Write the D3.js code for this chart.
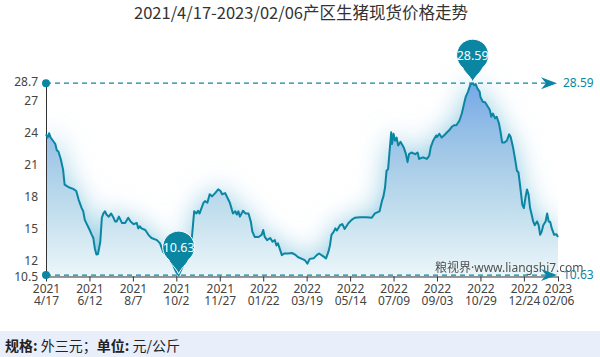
<!DOCTYPE html>
<html><head><meta charset="utf-8">
<script src="https://cdn.jsdelivr.net/npm/d3@7"></script>
<style>
html,body{margin:0;padding:0;background:#fff;}
svg{display:block;font-family:"Noto Sans","Noto Sans CJK SC",sans-serif;}
</style></head>
<body><svg id="c" width="600" height="357"></svg>
<script>
const titleText = "2021/4/17-2023/02/06产区生猪现货价格走势";
const footerBold1 = "规格:", footerText1 = " 外三元；", footerBold2 = "单位:", footerText2 = " 元/公斤";
const watermarkCn = "粮视界", watermarkUrl = "·www.liangshi7.com";
const dates = ["2021-04-17","2021-04-19","2021-04-21","2021-04-23","2021-04-26","2021-04-29","2021-05-01","2021-05-03","2021-05-06","2021-05-09","2021-05-11","2021-05-14","2021-05-18","2021-05-22","2021-05-26","2021-05-29","2021-06-02","2021-06-04","2021-06-06","2021-06-08","2021-06-12","2021-06-15","2021-06-17","2021-06-19","2021-06-21","2021-06-23","2021-06-26","2021-06-28","2021-06-30","2021-07-02","2021-07-04","2021-07-07","2021-07-10","2021-07-13","2021-07-15","2021-07-17","2021-07-20","2021-07-24","2021-07-28","2021-08-01","2021-08-04","2021-08-08","2021-08-12","2021-08-14","2021-08-16","2021-08-18","2021-08-23","2021-08-27","2021-08-31","2021-09-07","2021-09-11","2021-09-15","2021-09-20","2021-09-24","2021-09-28","2021-10-02","2021-10-05","2021-10-11","2021-10-17","2021-10-22","2021-10-25","2021-10-28","2021-10-30","2021-11-01","2021-11-06","2021-11-08","2021-11-11","2021-11-14","2021-11-17","2021-11-21","2021-11-25","2021-11-28","2021-11-30","2021-12-04","2021-12-07","2021-12-10","2021-12-12","2021-12-14","2021-12-17","2021-12-19","2021-12-21","2021-12-23","2021-12-27","2021-12-30","2022-01-03","2022-01-06","2022-01-08","2022-01-11","2022-01-16","2022-01-20","2022-01-22","2022-01-24","2022-01-27","2022-01-31","2022-02-03","2022-02-06","2022-02-08","2022-02-10","2022-02-13","2022-02-15","2022-02-18","2022-02-23","2022-02-28","2022-03-04","2022-03-08","2022-03-13","2022-03-17","2022-03-20","2022-03-23","2022-03-28","2022-04-01","2022-04-04","2022-04-09","2022-04-13","2022-04-16","2022-04-18","2022-04-20","2022-04-23","2022-04-25","2022-04-27","2022-05-01","2022-05-04","2022-05-07","2022-05-12","2022-05-16","2022-05-20","2022-05-27","2022-06-04","2022-06-11","2022-06-15","2022-06-21","2022-06-24","2022-06-26","2022-06-28","2022-06-30","2022-07-02","2022-07-04","2022-07-06","2022-07-07","2022-07-09","2022-07-11","2022-07-13","2022-07-15","2022-07-18","2022-07-22","2022-07-25","2022-07-27","2022-07-29","2022-08-01","2022-08-06","2022-08-09","2022-08-11","2022-08-16","2022-08-21","2022-08-24","2022-08-26","2022-08-29","2022-09-02","2022-09-03","2022-09-06","2022-09-09","2022-09-12","2022-09-16","2022-09-19","2022-09-22","2022-09-25","2022-09-28","2022-10-02","2022-10-05","2022-10-08","2022-10-10","2022-10-13","2022-10-16","2022-10-18","2022-10-19","2022-10-21","2022-10-23","2022-10-25","2022-10-28","2022-10-29","2022-11-01","2022-11-04","2022-11-07","2022-11-10","2022-11-12","2022-11-14","2022-11-17","2022-11-19","2022-11-22","2022-11-24","2022-11-26","2022-11-29","2022-12-02","2022-12-05","2022-12-07","2022-12-10","2022-12-13","2022-12-15","2022-12-17","2022-12-19","2022-12-22","2022-12-24","2022-12-26","2022-12-28","2022-12-30","2023-01-01","2023-01-03","2023-01-05","2023-01-07","2023-01-10","2023-01-12","2023-01-14","2023-01-16","2023-01-18","2023-01-21","2023-01-23","2023-01-25","2023-01-27","2023-01-29","2023-02-01","2023-02-04","2023-02-06"];
const prices = [23.8,23.5,23.9,23.5,23.2,22.9,22.3,22.2,21.5,20.5,
19.1,18.95,18.8,18.7,18.5,17.7,16.9,16.6,15.8,15.5,
14.9,14.4,14.1,13.1,12.55,12.6,13.75,16.0,16.4,16.6,
16.3,16.1,16.4,16.0,15.65,15.65,16.1,15.5,15.5,16.0,
15.65,15.4,15.5,15.0,15.2,15.0,14.85,14.4,14.1,13.9,
13.6,12.8,12.5,12.2,11.55,10.9,10.63,11.55,12.8,14.1,
16.6,16.4,16.65,16.4,17.4,17.55,17.4,18.2,18.0,18.3,
18.65,18.5,18.2,18.3,17.85,17.4,16.9,16.4,16.6,16.3,
16.6,16.1,16.65,16.4,16.4,15.65,14.7,14.2,14.2,14.4,
14.85,14.2,13.9,14.1,13.75,13.9,13.4,13.6,12.95,12.5,
12.65,12.65,12.7,12.55,12.3,12.15,12.0,11.7,12.15,12.2,
12.5,12.65,12.4,12.2,12.8,13.4,14.4,14.7,15.0,14.8,
15.3,15.4,14.95,15.5,15.8,16.0,16.05,16.05,16.0,16.4,
16.6,17.55,18.0,18.8,20.4,20.55,22.3,24.0,22.9,23.85,
23.2,23.5,22.75,23.1,22.6,21.95,21.2,21.95,22.1,21.95,
22.1,21.5,21.65,21.5,21.8,22.6,23.2,23.7,23.55,23.85,
23.5,23.7,24.0,24.2,24.5,24.65,24.65,25.1,25.75,26.7,
27.3,27.8,28.45,28.55,28.59,28.4,28.5,28.1,27.8,27.3,
26.85,26.8,26.45,26.1,25.45,25.75,25.3,25.45,24.8,24.0,
23.05,23.05,23.2,23.8,23.55,22.6,21.35,20.4,20.25,19.1,
17.2,16.9,17.85,18.65,18.2,16.9,16.3,15.65,15.3,15.65,
15.3,14.4,14.7,15.3,15.65,16.4,15.65,15.6,15.0,14.4,14.45,14.2];
const tickDates = ["2021-04-17","2021-06-12","2021-08-07","2021-10-02","2021-11-27","2022-01-22","2022-03-19","2022-05-14","2022-07-09","2022-09-03","2022-10-29","2022-12-24","2023-02-06"];
const tickYears = ["2021","2021","2021","2021","2021","2022","2022","2022","2022","2022","2022","2022","2023"];
const tickDays = ["4/17","6/12","8/7","10/2","11/27","01/22","03/19","05/14","07/09","09/03","10/29","12/24","02/06"];
const yTicks = [10.5,12,15,18,21,24,27,28.7];

const parse = d3.timeParse("%Y-%m-%d");
const n = Math.min(dates.length, prices.length);
const data = d3.range(n).map(i => ({d: parse(dates[i]), v: prices[i]}));
const svg = d3.select("#c");
const teal = "#0a86a3";

const x = d3.scaleTime().domain([parse("2021-04-17"), parse("2023-02-06")]).range([46, 558]);
const y = d3.scaleLinear().domain([10.5, 28.7]).range([276.5, 82]);

const defs = svg.append("defs");
const grad = defs.append("linearGradient").attr("id","ag").attr("gradientUnits","userSpaceOnUse")
  .attr("x1",0).attr("x2",0).attr("y1",y(28.7)).attr("y2",y(10.5));
[[0,"#76a8e7"],[0.35,"#a0c7e7"],[0.7,"#c6e1ee"],[1,"#ecf6fa"]].forEach(s=>grad.append("stop").attr("offset",s[0]).attr("stop-color",s[1]));
const f = defs.append("filter").attr("id","blur").attr("x","-30%").attr("y","-30%").attr("width","160%").attr("height","160%");
f.append("feGaussianBlur").attr("stdDeviation",14);
defs.append("clipPath").attr("id","clip").append("rect").attr("x",46).attr("y",30).attr("width",512).attr("height",246.5);

// title
svg.append("text").attr("x",301).attr("y",19).attr("text-anchor","middle")
  .style("font-family","'Noto Sans CJK SC',sans-serif").style("font-size","16.5px").attr("fill","#333").text(titleText);

// footer
svg.append("rect").attr("x",0).attr("y",331).attr("width",600).attr("height",26).attr("fill","#e9eefb");
const ft = svg.append("text").attr("x",5).attr("y",351).style("font-family","'Noto Sans CJK SC',sans-serif").style("font-size","14px").attr("fill","#222");
ft.append("tspan").attr("font-weight","bold").text(footerBold1);
ft.append("tspan").text(footerText1);
ft.append("tspan").attr("font-weight","bold").text(footerBold2);
ft.append("tspan").text(footerText2);

// area + glow
const area = d3.area().x(d=>x(d.d)).y0(y(10.5)).y1(d=>y(d.v));
const line = d3.line().x(d=>x(d.d)).y(d=>y(d.v));
const g = svg.append("g").attr("clip-path","url(#clip)");
g.append("path").datum(data).attr("d",area).attr("fill","#8cc8e1").attr("opacity",1).attr("filter","url(#blur)");
g.append("path").datum(data).attr("d",area).attr("fill","url(#ag)");

// watermark
const wm = svg.append("text").attr("x",435).attr("y",272).attr("fill","#333").attr("opacity",0.85);
wm.append("tspan").style("font-family","'Noto Sans CJK SC',sans-serif").style("font-size","12px").text(watermarkCn);
wm.append("tspan").style("font-family","'Noto Sans',sans-serif").style("font-size","12px").text(watermarkUrl);

// axes
const yAxis = svg.append("g").attr("transform","translate(46,0)")
  .call(d3.axisLeft(y).tickValues(yTicks).tickSize(0).tickPadding(8).tickFormat(d=>String(d)));
yAxis.select(".domain").attr("stroke","#333");
yAxis.selectAll("text").style("font-size","12px").attr("fill","#444").style("font-family","'Noto Sans',sans-serif");

const xAxis = svg.append("g").attr("transform","translate(0,276.5)")
  .call(d3.axisBottom(x).tickValues(tickDates.map(parse)).tickSize(5).tickSizeOuter(0).tickFormat(""));
xAxis.select(".domain").attr("stroke","#333");
xAxis.selectAll(".tick line").attr("stroke","#333");
xAxis.selectAll(".tick text").remove();
xAxis.selectAll(".tick").each(function(d,i){
  const t = d3.select(this);
  t.append("text").attr("y",16).attr("text-anchor","middle").style("font-size","12px").attr("fill","#444")
    .style("font-family","'Noto Sans',sans-serif").text(tickYears[i]);
  t.append("text").attr("y",28.5).attr("text-anchor","middle").style("font-size","12px").attr("fill","#444")
    .style("font-family","'Noto Sans',sans-serif").text(tickDays[i]);
});

// line
svg.append("path").datum(data).attr("d",line).attr("fill","none").attr("stroke",teal).attr("stroke-width",2).attr("stroke-linejoin","round");

// mark lines (min/max)
const maxI = d3.maxIndex(data, d=>d.v), minI = d3.minIndex(data, d=>d.v);
[data[maxI], data[minI]].forEach(p=>{
  const yy = y(p.v);
  svg.append("line").attr("x1",46).attr("x2",552).attr("y1",yy).attr("y2",yy)
    .attr("stroke",teal).attr("stroke-width",1.2).attr("stroke-dasharray","5,4");
  svg.append("circle").attr("cx",46).attr("cy",yy).attr("r",4).attr("fill",teal);
  const tip = 557;
  svg.append("path").attr("d",`M${tip},${yy} L${tip-16},${yy-6} L${tip-11},${yy} L${tip-16},${yy+6} Z`).attr("fill",teal);
  svg.append("text").attr("x",563).attr("y",yy).attr("dy","0.35em").style("font-size","12px").attr("fill",teal).text(p.v.toFixed(2));
});

// pins
[data[maxI], data[minI]].forEach(p=>{
  const cx = x(p.d), ty = y(p.v) - 1, cy = ty - 27, r = 16;
  const a = 38*Math.PI/180, sx = r*Math.sin(a), sy = r*Math.cos(a);
  const dpath = `M${cx},${ty} C${cx-2},${ty-6} ${cx-sx+1},${cy+sy+4} ${cx-sx},${cy+sy} A${r},${r} 0 1 1 ${cx+sx},${cy+sy} C${cx+sx-1},${cy+sy+4} ${cx+2},${ty-6} ${cx},${ty} Z`;
  svg.append("path").attr("d",dpath).attr("fill",teal).attr("stroke","#fff").attr("stroke-width",1);
  svg.append("text").attr("x",cx).attr("y",cy).attr("dy","0.36em").attr("text-anchor","middle")
    .style("font-size","12.5px").attr("fill","#fff").text(p.v.toFixed(2));
});
</script></body></html>
